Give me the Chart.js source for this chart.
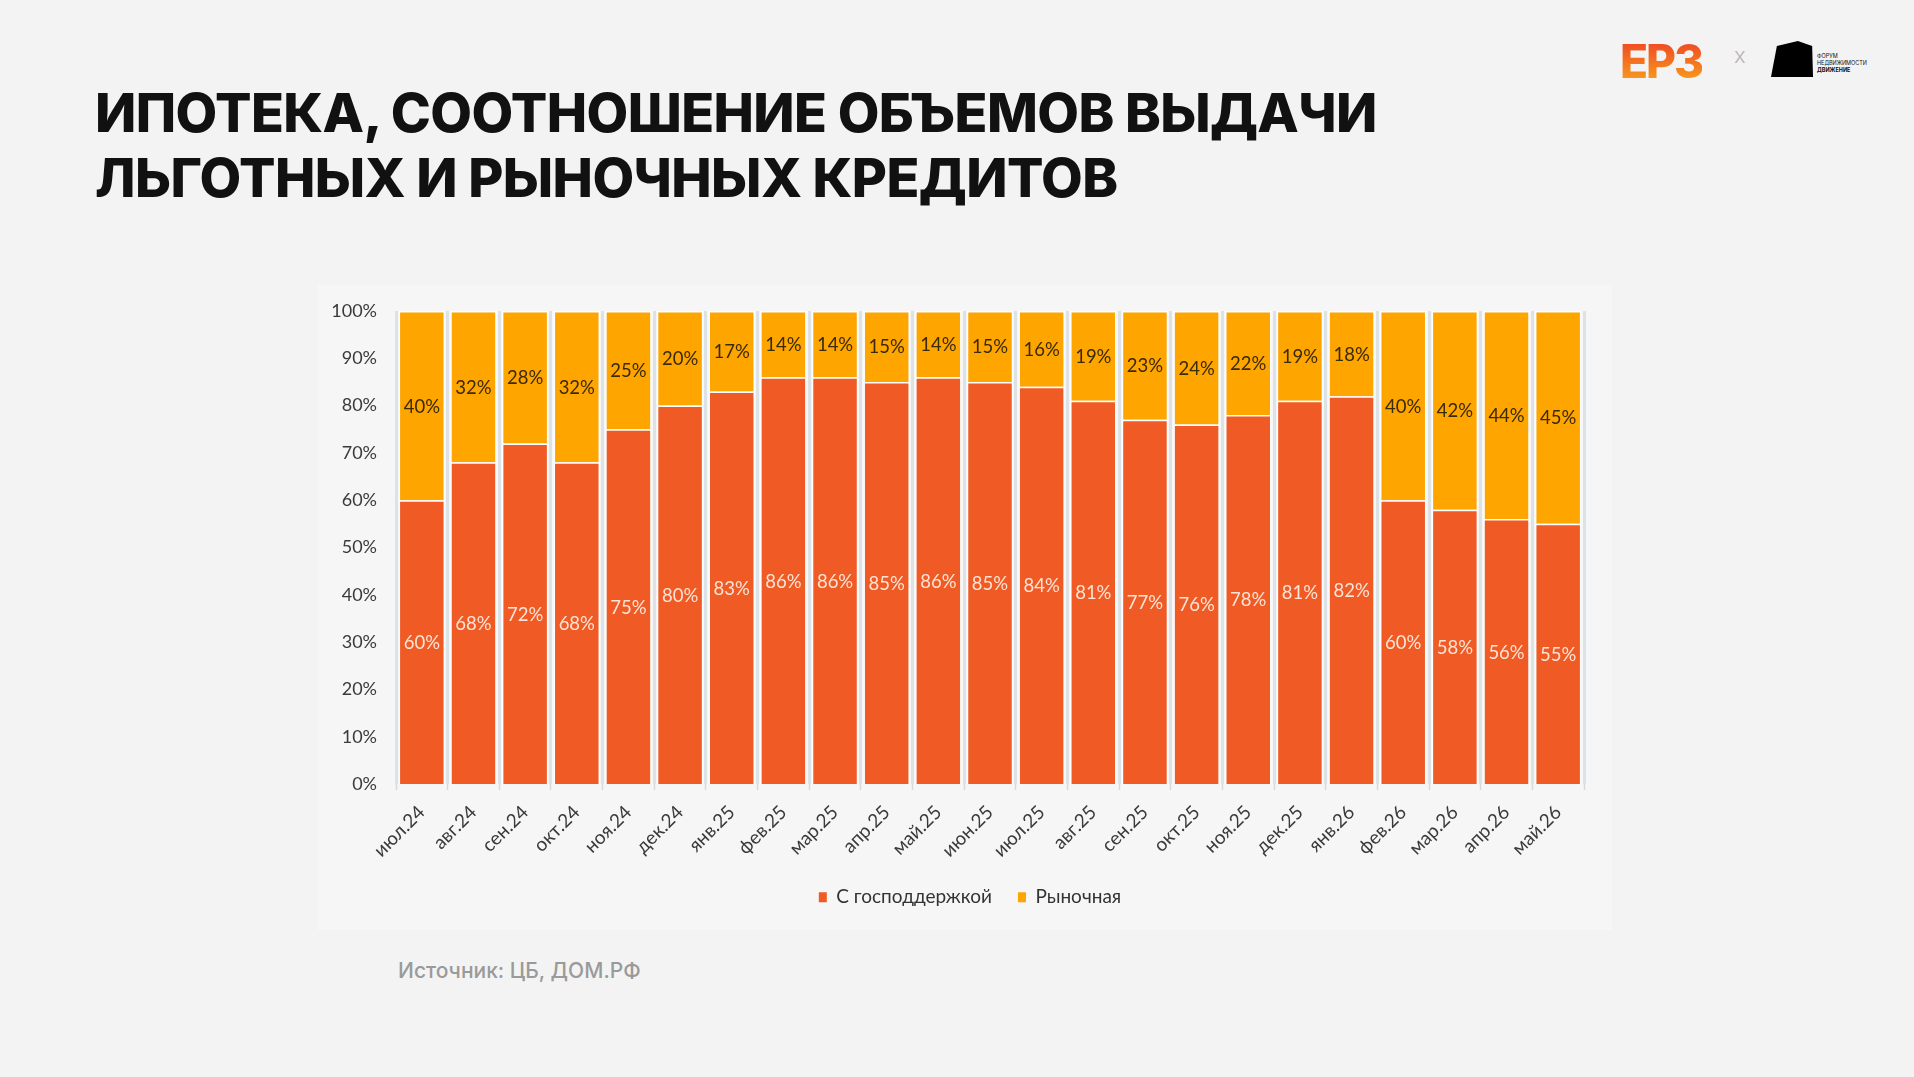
<!DOCTYPE html>
<html lang="ru">
<head>
<meta charset="utf-8">
<title>Ипотека, соотношение объемов выдачи льготных и рыночных кредитов</title>
<script src="https://cdn.jsdelivr.net/npm/chart.js@4.4.1/dist/chart.umd.min.js"></script>
<style>
    html, body {
        margin: 0;
        padding: 0;
        width: 1914px;
        height: 1077px;
        background: #f3f3f3;
        overflow: hidden;
    }
    .title {
        position: absolute;
        left: 95px;
        top: 80px;
        font-family: Inter, "Noto Sans", sans-serif;
        font-weight: 800;
        font-size: 54px;
        line-height: 65px;
        color: #111;
        letter-spacing: -0.6px;
    }
    .source {
        position: absolute;
        left: 398px;
        top: 958px;
        font-family: Inter, "Noto Sans", sans-serif;
        font-weight: 500;
        font-size: 21px;
        color: #9a9a9a;
    }
    .chart-box {
        position: absolute;
        left: 318px;
        top: 285px;
        width: 1294px;
        height: 645px;
        background: #f6f6f6;
    }
    .chart-box canvas {
        display: block;
    }
    .logo-erz {
        position: absolute;
        left: 1620px;
        top: 33px;
        font-family: Inter, sans-serif;
        font-weight: 800;
        font-size: 46px;
        letter-spacing: -2px;
        background: linear-gradient(180deg, #f04e23 20%, #f8a01c 90%);
        -webkit-background-clip: text;
        background-clip: text;
        color: transparent;
    }
    .logo-x {
        position: absolute;
        left: 1734px;
        top: 42px;
        font-family: Inter, sans-serif;
        font-weight: 300;
        font-size: 22px;
        color: #b5b5b5;
    }
    .logo-house {
        position: absolute;
        left: 1771px;
        top: 41px;
        width: 42px;
        height: 36px;
        background: #000;
        clip-path: polygon(64% 0%, 98% 14%, 100% 100%, 0% 100%, 14% 14%);
    }
    .logo-forum {
        position: absolute;
        left: 1817px;
        top: 53px;
        font-family: Inter, sans-serif;
        font-size: 5.5px;
        line-height: 7px;
        color: #111;
    }
</style>
</head>
<body>
    <div class="logo-erz">ЕРЗ</div>
    <div class="logo-x">x</div>
    <div class="logo-house"></div>
    <div class="logo-forum">ФОРУМ<br>НЕДВИЖИМОСТИ<br><b>ДВИЖЕНИЕ</b></div>

    <div class="title">ИПОТЕКА, СООТНОШЕНИЕ ОБЪЕМОВ ВЫДАЧИ<br>ЛЬГОТНЫХ И РЫНОЧНЫХ КРЕДИТОВ</div>

    <div class="chart-box">
        <canvas id="mortgageChart" width="1294" height="645"></canvas>
    </div>

    <div class="source">Источник: ЦБ, ДОМ.РФ</div>

<script>
const months = [
    "июл.24", "авг.24", "сен.24", "окт.24", "ноя.24", "дек.24",
    "янв.25", "фев.25", "мар.25", "апр.25", "май.25", "июн.25",
    "июл.25", "авг.25", "сен.25", "окт.25", "ноя.25", "дек.25",
    "янв.26", "фев.26", "мар.26", "апр.26", "май.26"
];
const subsidized = [60, 68, 72, 68, 75, 80, 83, 86, 86, 85, 86, 85, 84, 81, 77, 76, 78, 81, 82, 60, 58, 56, 55];
const market = [40, 32, 28, 32, 25, 20, 17, 14, 14, 15, 14, 15, 16, 19, 23, 24, 22, 19, 18, 40, 42, 44, 45];
const seriesNames = ["С господдержкой", "Рыночная"];
const yTicks = [0, 10, 20, 30, 40, 50, 60, 70, 80, 90, 100];

const chartFont = "Lato, 'Open Sans', sans-serif";

// labels inside each segment, like the excel original
const segmentLabels = {
    id: "segmentLabels",
    afterDatasetsDraw(chart) {
        const ctx = chart.ctx;
        ctx.save();
        ctx.font = "18.5px " + chartFont;
        ctx.textAlign = "center";
        ctx.textBaseline = "middle";
        chart.data.datasets.forEach(function(dataset, di) {
            const meta = chart.getDatasetMeta(di);
            ctx.fillStyle = dataset.labelColor;
            meta.data.forEach(function(bar, i) {
                const p = bar.getProps(["x", "y", "base"], true);
                ctx.fillText(dataset.data[i] + "%", p.x, (p.y + p.base) / 2 + 1);
            });
        });
        ctx.restore();
    }
};

// the excel legend sits a bit right of the canvas centre
const legendShift = {
    id: "legendShift",
    afterLayout(chart) {
        if (chart.legend) {
            chart.legend.left += 38;
        }
    }
};

document.addEventListener("DOMContentLoaded", function() {
    const ctx = document.getElementById("mortgageChart").getContext("2d");

    new Chart(ctx, {
        type: "bar",
        data: {
            labels: months,
            datasets: [
                {
                    label: seriesNames[0],
                    data: subsidized,
                    backgroundColor: "#f05a24",
                    borderColor: "#ffffff",
                    borderWidth: 1.5,
                    labelColor: "#fde4d6",
                },
                {
                    label: seriesNames[1],
                    data: market,
                    backgroundColor: "#ffa500",
                    borderColor: "#ffffff",
                    borderWidth: 1.5,
                    labelColor: "#3a2a05",
                },
            ],
        },
        options: {
            responsive: false,
            animation: false,
            devicePixelRatio: 1,
            layout: {
                padding: { top: 26, right: 28, bottom: 13.3, left: 0 }
            },
            datasets: {
                bar: {
                    barPercentage: 0.9,
                    categoryPercentage: 1.0,
                }
            },
            scales: {
                x: {
                    stacked: true,
                    offset: true,
                    border: { display: false },
                    grid: {
                        offset: true,
                        color: "#dde2e6",
                        lineWidth: 3,
                        tickLength: 6,
                        tickColor: "#d3d9de",
                        tickWidth: 1.5,
                    },
                    ticks: {
                        minRotation: 45,
                        maxRotation: 45,
                        padding: 11,
                        color: "#3a3a3a",
                        font: { family: chartFont, size: 19 },
                    },
                    afterFit: function(scale) {
                        scale.height = 77.7;
                    },
                },
                y: {
                    stacked: true,
                    min: 0,
                    max: 100,
                    border: { display: false },
                    grid: { display: false, drawTicks: true, tickLength: 19 },
                    afterBuildTicks: function(scale) {
                        scale.ticks = yTicks.map(function(v) { return { value: v }; });
                    },
                    ticks: {
                        padding: 0,
                        color: "#3a3a3a",
                        font: { family: chartFont, size: 18 },
                        callback: function(value) {
                            return value + "%";
                        }
                    },
                    afterFit: function(scale) {
                        scale.width = 78;
                    },
                },
            },
            plugins: {
                legend: {
                    display: true,
                    position: "bottom",
                    labels: {
                        boxWidth: 8,
                        boxHeight: 10,
                        padding: 26,
                        color: "#333333",
                        font: { family: chartFont, size: 19 },
                        generateLabels: function(chart) {
                            return chart.data.datasets.map(function(ds, i) {
                                return {
                                    text: ds.label,
                                    fillStyle: ds.backgroundColor,
                                    strokeStyle: ds.backgroundColor,
                                    lineWidth: 0,
                                    fontColor: "#333333",
                                    datasetIndex: i,
                                    hidden: false,
                                };
                            });
                        }
                    },
                },
                tooltip: { enabled: false },
            },
        },
        plugins: [segmentLabels, legendShift],
    });
});
</script>
</body>
</html>
